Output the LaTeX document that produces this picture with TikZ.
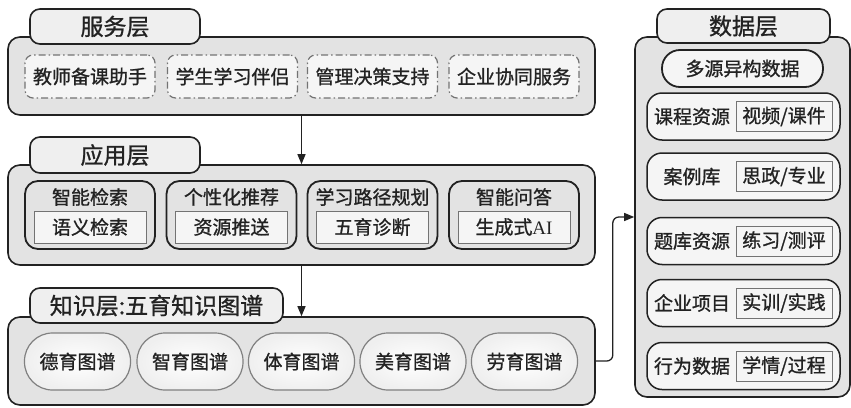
\documentclass[tikz,border=0pt]{standalone}
\usepackage{fontspec}
\setmainfont[FakeBold=1]{Noto Sans CJK SC}
\newfontfamily\latinserif{Liberation Serif}
\usetikzlibrary{arrows.meta}
\definecolor{boxgray}{HTML}{E3E3E3}
\definecolor{tabgray}{HTML}{EFEFEF}
\definecolor{paper}{HTML}{F5F5F5}
\definecolor{ink}{HTML}{222222}
\tikzset{
  layer/.style={draw=ink, line width=1.6pt, fill=boxgray, rounded corners=12pt, inner sep=0pt},
  layertab/.style={draw=ink, line width=1.6pt, fill=tabgray, rounded corners=10pt, inner sep=0pt,
                   font=\fontsize{23}{24}\selectfont},
  servicebox/.style={draw=black!55, line width=1.2pt, fill=paper, rounded corners=8pt,
                     dash pattern=on 7pt off 3pt on 1.5pt off 3pt,
                     minimum width=130pt, minimum height=43pt, inner sep=0pt},
  appbox/.style={draw=ink, line width=1.8pt, fill=boxgray, rounded corners=13pt,
                 minimum width=130pt, minimum height=68pt, inner sep=0pt},
  subbox/.style={draw=black!55, line width=1pt, fill=paper, inner sep=0pt},
  graphbox/.style={draw=black!50, line width=1.2pt, inner color=white, outer color=tabgray,
                   rounded corners=28pt, minimum width=106pt, minimum height=57pt, inner sep=0pt},
  rowbox/.style={draw=ink, line width=1.5pt, fill=paper, rounded corners=15pt,
                 minimum width=193pt, minimum height=47pt, inner sep=0pt},
  link/.style={draw=ink, line width=1.3pt, -{Triangle[length=10pt,width=8pt]}}
}
\begin{document}
\begin{tikzpicture}[x=1pt,y=-1pt,font=\fontsize{19}{20}\selectfont,text=ink]
  \useasboundingbox (0,0) rectangle (851,407);

  % service layer
  \node[layer, minimum width=587pt, minimum height=78pt] (svc) at (301.5,76) {};
  \node[layertab, minimum width=170pt, minimum height=35pt] (svctab) at (115,26.5) {服务层};
  \foreach \x/\t [count=\i] in {90/教师备课助手, 232.5/学生学习伴侣, 372.5/管理决策支持, 514/企业协同服务}
    \node[servicebox] (svc\i) at (\x,76.5) {\t};

  % application layer
  \node[layer, minimum width=587pt, minimum height=100pt] (app) at (301.5,215) {};
  \node[layertab, minimum width=170pt, minimum height=36pt] (apptab) at (115,155) {应用层};
  \foreach \x/\t/\s [count=\i] in {90/智能检索/语义检索, 231.5/个性化推荐/资源推送,
                                   372.5/学习路径规划/五育诊断, 514/智能问答/生成式{\latinserif AI}}
  {
    \node[appbox] (app\i) at (\x,215) {};
    \node (apptitle\i) at (\x,197) {\t};
    \node[subbox, minimum width=112pt, minimum height=32pt] (appsub\i) at (\x,227) {\s};
  }

  % knowledge layer
  \node[layer, minimum width=587pt, minimum height=88pt] (kn) at (301.5,361) {};
  \node[layertab, minimum width=253pt, minimum height=35pt] (kntab) at (156.5,305.5) {知识层:五育知识图谱};
  \foreach \x/\t [count=\i] in {77.5/德育图谱, 190/智育图谱, 301.5/体育图谱, 413/美育图谱, 524.5/劳育图谱}
    \node[graphbox] (kn\i) at (\x,361.5) {\t};

  % data layer
  \node[layer, minimum width=215pt, minimum height=360pt] (data) at (742.5,217) {};
  \node[layertab, minimum width=173pt, minimum height=34pt] (datatab) at (743.5,26) {数据层};
  \node[draw=ink, line width=1.8pt, fill=paper, rounded corners=18pt, minimum width=161pt,
        minimum height=37pt, inner sep=0pt] (multi) at (742.5,68.5) {多源异构数据};
  \foreach \y/\t/\s [count=\i] in {116.5/课程资源/{视频/课件}, 176.5/案例库/{思政/专业}, 241/题库资源/{练习/测评},
                                   303/企业项目/{实训/实践}, 366/行为数据/{学情/过程}}
  {
    \node[rowbox] (row\i) at (743.5,\y) {};
    \node (rowname\i) at (692,\y) {\t};
    \node[subbox, minimum width=96pt, minimum height=30pt] (rowsub\i) at (784,\y) {\s};
  }

  % connectors
  \draw[link] (svc.south) -- (app.north);
  \draw[link] (app.south) -- (kn.north);
  \draw[link, rounded corners=6pt] (kn.east) -- ++(17,0) |- (data.west);
\end{tikzpicture}
\end{document}
